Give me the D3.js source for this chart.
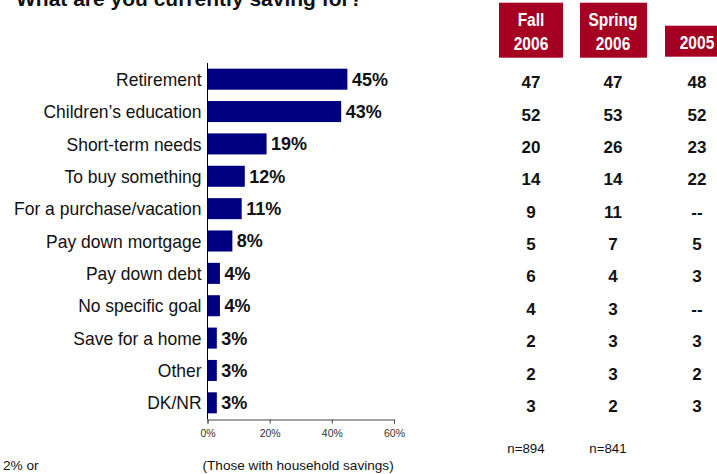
<!DOCTYPE html>
<html>
<head>
<meta charset="utf-8">
<script src="https://cdn.jsdelivr.net/npm/d3@7"></script>
<style>
  html, body { margin: 0; padding: 0; background: #fff; }
  svg { display: block; font-family: Arial, "Liberation Sans", sans-serif; }
</style>
</head>
<body>
<svg id="chart" width="717" height="474"></svg>
<script>
// Savings goals, current wave and earlier waves
const categories = ["Retirement", "Children\u2019s education", "Short-term needs", "To buy something",
  "For a purchase/vacation", "Pay down mortgage", "Pay down debt", "No specific goal",
  "Save for a home", "Other", "DK/NR"];
const currentPct = [45, 43, 19, 12, 11, 8, 4, 4, 3, 3, 3];
const fall2006 = [47, 52, 20, 14, 9, 5, 6, 4, 2, 2, 3];
const spring2006 = [47, 53, 26, 14, 11, 7, 4, 3, 3, 3, 2];
const year2005 = [48, 52, 23, 22, null, 5, 3, null, 3, 2, 3];
const waveHeaders = [["Fall", "2006"], ["Spring", "2006"], ["2005"]];
const sampleSizes = ["n=894", "n=841", ""];
const xTicks = [0, 20, 40, 60];

const svg = d3.select("#chart");
const navy = "#000080";
const crimson = "#A50021";

// Title (runs off the top edge)
svg.append("text")
  .attr("x", 16).attr("y", 6)
  .attr("font-size", 21).attr("font-weight", "bold").attr("fill", "#111")
  .text("What are you currently saving for?");

const x = d3.scaleLinear().domain([0, 60]).range([207.5, 394]);
const y = d3.scaleBand().domain(categories).range([63, 419]).paddingInner(0.35).paddingOuter(0.175);

// Bars
svg.append("g").selectAll("rect")
  .data(categories)
  .join("rect")
  .attr("x", x(0))
  .attr("y", d => y(d))
  .attr("width", (d, i) => x(currentPct[i]) - x(0))
  .attr("height", y.bandwidth())
  .attr("fill", navy);

// Value labels
svg.append("g").selectAll("text")
  .data(categories)
  .join("text")
  .attr("x", (d, i) => x(currentPct[i]) + 4.5)
  .attr("y", d => y(d) + y.bandwidth() / 2)
  .attr("dy", "0.36em")
  .attr("font-size", 18).attr("font-weight", "bold").attr("fill", "#111")
  .text((d, i) => currentPct[i] + "%");

// Category labels (slightly condensed face)
svg.append("g").selectAll("text")
  .data(categories)
  .join("text")
  .attr("transform", d => `translate(201.5,${y(d) + y.bandwidth() / 2}) scale(0.95,1)`)
  .attr("dy", "0.36em")
  .attr("text-anchor", "end")
  .attr("font-size", 18.4).attr("fill", "#111")
  .text(d => d);

// Vertical axis line
svg.append("line")
  .attr("x1", x(0)).attr("x2", x(0))
  .attr("y1", 63).attr("y2", 419.5)
  .attr("stroke", "#000").attr("stroke-width", 1);

// Horizontal axis
const xAxis = d3.axisBottom(x).tickValues(xTicks).tickFormat(d => d + "%").tickSize(4).tickPadding(6);
const gx = svg.append("g").attr("transform", "translate(0,419.5)").call(xAxis);
gx.select(".domain").attr("stroke", "#444");
gx.selectAll(".tick line").attr("stroke", "#444");
gx.selectAll(".tick text").attr("font-size", 10.5).attr("fill", "#333")
  .attr("font-family", "Arial, 'Liberation Sans', sans-serif");

// Earlier waves table
const colX = [531, 613, 697];
const boxes = [[499, 2.7, 64, 55], [580, 2.7, 67, 55], [665, 25.7, 60, 31]];
waveHeaders.forEach((lines, c) => {
  const b = boxes[c];
  svg.append("rect").attr("x", b[0]).attr("y", b[1]).attr("width", b[2]).attr("height", b[3]).attr("fill", crimson);
  const baselines = lines.length === 2 ? [26.3, 49.5] : [49];
  lines.forEach((t, k) => {
    svg.append("text")
      .attr("transform", `translate(${colX[c]},${baselines[k]}) scale(0.84,1)`)
      .attr("text-anchor", "middle")
      .attr("font-size", 18.5).attr("font-weight", "bold").attr("fill", "#fff")
      .text(t);
  });
});

[fall2006, spring2006, year2005].forEach((series, c) => {
  svg.append("g").selectAll("text")
    .data(categories)
    .join("text")
    .attr("x", colX[c])
    .attr("y", d => y(d) + y.bandwidth() / 2 + 3)
    .attr("dy", "0.36em")
    .attr("text-anchor", "middle")
    .attr("font-size", 17).attr("font-weight", "bold").attr("fill", "#111")
    .text((d, i) => series[i] == null ? "--" : series[i]);
});

sampleSizes.forEach((t, c) => {
  if (!t) return;
  svg.append("text")
    .attr("x", colX[c] - 5).attr("y", 453)
    .attr("text-anchor", "middle")
    .attr("font-size", 13.3).attr("fill", "#111")
    .text(t);
});

// Footnotes
svg.append("text")
  .attr("x", 202.5).attr("y", 470)
  .attr("font-size", 13.6).attr("fill", "#111")
  .text("(Those with household savings)");

svg.append("text")
  .attr("x", 3).attr("y", 470)
  .attr("font-size", 13.6).attr("fill", "#111")
  .text("2% or");
</script>
</body>
</html>
